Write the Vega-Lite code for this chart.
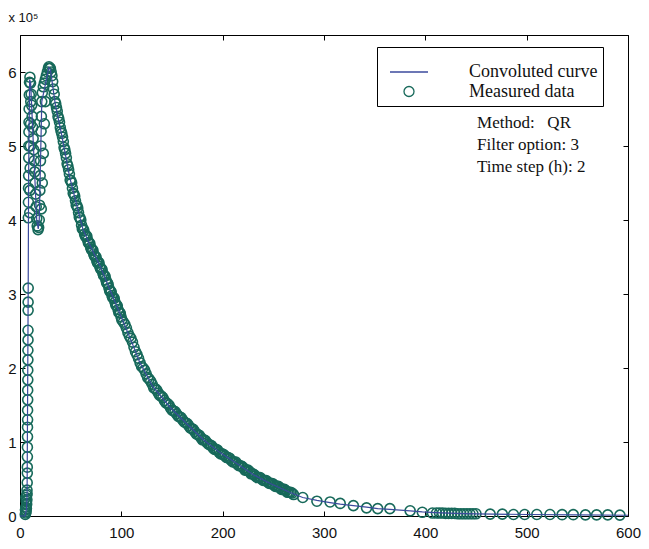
{
  "$schema": "https://vega.github.io/schema/vega-lite/v6.json",
  "width": 608,
  "height": 481,
  "autosize": {"type": "none"},
  "padding": {"left": 20, "top": 35, "right": 21, "bottom": 33},
  "background": "white",
  "config": {
    "view": {"stroke": "black", "strokeWidth": 1},
    "axis": {"domainColor": "black", "tickColor": "black", "labelColor": "#111", "labelFont": "Liberation Sans", "labelFontSize": 15, "grid": false, "tickSize": -5, "labelFlush": false, "labelOverlap": false}
  },
  "datasets": {
    "measured": [
      {"t":5.2,"v":0.02},{"t":5.4,"v":0.08},{"t":5.6,"v":0.04},{"t":5.8,"v":0.12},{"t":5.8,"v":0.25},{"t":6.0,"v":0.06},{"t":6.2,"v":0.2},{"t":6.3,"v":0.1},{"t":6.5,"v":0.28},{"t":6.6,"v":0.16},{"t":6.8,"v":0.22},{"t":6.9,"v":0.35},{"t":7.0,"v":0.3},{"t":7.1,"v":0.45},{"t":7.2,"v":0.58},{"t":7.2,"v":0.66},{"t":7.3,"v":0.8},{"t":7.3,"v":0.93},{"t":7.4,"v":1.07},{"t":7.4,"v":1.2},{"t":7.5,"v":1.3},{"t":7.5,"v":1.43},{"t":7.6,"v":1.57},{"t":7.6,"v":1.7},{"t":7.7,"v":1.84},{"t":7.7,"v":1.97},{"t":7.8,"v":2.11},{"t":7.8,"v":2.24},{"t":7.9,"v":2.38},{"t":7.9,"v":2.51},{"t":8.0,"v":2.78},{"t":8.0,"v":2.89},{"t":8.1,"v":3.08},
      {"t":8.2,"v":4.03},{"t":8.3,"v":4.24},{"t":8.4,"v":4.43},{"t":8.5,"v":4.6},{"t":8.6,"v":4.84},{"t":8.7,"v":5.0},{"t":8.8,"v":5.19},{"t":8.9,"v":5.32},{"t":9.0,"v":5.5},{"t":9.2,"v":5.69},{"t":9.4,"v":5.86},{"t":9.8,"v":5.93},
      {"t":9.6,"v":4.1},{"t":9.8,"v":4.4},{"t":10,"v":4.7},{"t":10.2,"v":5.0},{"t":10.4,"v":5.3},{"t":10.6,"v":5.6},
      {"t":10.4,"v":5.85},{"t":11,"v":5.7},{"t":11.5,"v":5.55},{"t":12,"v":5.4},{"t":12.5,"v":5.25},{"t":13,"v":5.1},{"t":13.5,"v":4.95},{"t":14,"v":4.8},{"t":14.5,"v":4.65},{"t":15,"v":4.5},{"t":15.5,"v":4.35},{"t":16,"v":4.18},{"t":16.5,"v":4.02},{"t":17,"v":3.92},{"t":17.8,"v":3.87},{"t":18.4,"v":3.9},
      {"t":19,"v":4.0},{"t":19.3,"v":4.2},{"t":19.6,"v":4.4},{"t":19.9,"v":4.6},{"t":20.2,"v":4.8},{"t":20.5,"v":5.0},{"t":20.8,"v":5.2},{"t":21.1,"v":5.4},{"t":21.5,"v":5.6},{"t":22,"v":5.72},{"t":23,"v":5.8},{"t":24,"v":5.85},{"t":25,"v":5.9},{"t":26,"v":5.95},{"t":27,"v":6.0},{"t":28,"v":6.05},{"t":28.6,"v":6.07},{"t":29.3,"v":6.05},
      {"t":21,"v":4.15},{"t":22,"v":4.5},{"t":23,"v":4.9},{"t":24,"v":5.3},{"t":25,"v":5.6},
      {"t":30,"v":6.05},{"t":31.5,"v":5.95},{"t":33,"v":5.77},{"t":34.5,"v":5.6},{"t":36,"v":5.52},{"t":37.5,"v":5.4},{"t":39,"v":5.32},{"t":40.5,"v":5.2},{"t":42,"v":5.12},{"t":43.5,"v":4.98},{"t":45,"v":4.9},{"t":46.5,"v":4.76},{"t":48,"v":4.68},{"t":49.5,"v":4.54},{"t":51,"v":4.5},{"t":52.5,"v":4.36},{"t":54,"v":4.32},{"t":55.5,"v":4.2},{"t":57,"v":4.16},{"t":58.5,"v":4.04},{"t":60,"v":4.0},{"t":61.5,"v":3.88},{"t":63,"v":3.86},{"t":64.5,"v":3.78},{"t":66,"v":3.78},{"t":67.5,"v":3.69},{"t":69,"v":3.68},{"t":70.5,"v":3.6},{"t":72,"v":3.59},{"t":73.5,"v":3.51},{"t":75,"v":3.5},{"t":76.5,"v":3.42},{"t":78,"v":3.42},{"t":79.5,"v":3.34},{"t":81,"v":3.33},{"t":82.5,"v":3.25},{"t":84,"v":3.24},{"t":85.5,"v":3.15},{"t":87,"v":3.13},{"t":88.5,"v":3.04},{"t":90,"v":3.03},{"t":91.5,"v":2.95},{"t":93,"v":2.94},{"t":94.5,"v":2.85},{"t":96,"v":2.84},{"t":97.5,"v":2.75},{"t":99,"v":2.74},{"t":100.5,"v":2.65},
      {"t":30.75,"v":6.0},{"t":32.25,"v":5.87},{"t":33.75,"v":5.7},{"t":35.25,"v":5.57},{"t":36.75,"v":5.47},{"t":38.25,"v":5.37},{"t":39.75,"v":5.25},{"t":41.25,"v":5.17},{"t":42.75,"v":5.06},{"t":44.25,"v":4.95},{"t":45.75,"v":4.84},{"t":47.25,"v":4.73},{"t":48.75,"v":4.62},{"t":50.25,"v":4.53},{"t":51.75,"v":4.43},{"t":53.25,"v":4.35},{"t":54.75,"v":4.26},{"t":56.25,"v":4.19},{"t":57.75,"v":4.1},{"t":59.25,"v":4.03},{"t":60.75,"v":3.93},{"t":62.25,"v":3.88},{"t":63.75,"v":3.81},{"t":65.25,"v":3.79},{"t":66.75,"v":3.73},{"t":68.25,"v":3.69},{"t":69.75,"v":3.63},{"t":71.25,"v":3.6},{"t":72.75,"v":3.54},{"t":74.25,"v":3.51},{"t":75.75,"v":3.45},{"t":77.25,"v":3.43},{"t":78.75,"v":3.37},{"t":80.25,"v":3.34},{"t":81.75,"v":3.28},{"t":83.25,"v":3.25},{"t":84.75,"v":3.19},{"t":86.25,"v":3.15},{"t":87.75,"v":3.08},{"t":89.25,"v":3.04},{"t":90.75,"v":2.98},{"t":92.25,"v":2.95},{"t":93.75,"v":2.89},{"t":95.25,"v":2.85},{"t":96.75,"v":2.79},{"t":98.25,"v":2.75},{"t":99.75,"v":2.69},
      {"t":102,"v":2.62},{"t":105,"v":2.54},{"t":108,"v":2.43},{"t":111,"v":2.35},{"t":114,"v":2.22},{"t":117,"v":2.13},{"t":120,"v":2.02},{"t":123,"v":1.97},{"t":126,"v":1.87},{"t":129,"v":1.82},{"t":132,"v":1.73},{"t":135,"v":1.7},{"t":138,"v":1.63},{"t":141,"v":1.6},{"t":144,"v":1.53},{"t":147,"v":1.5},{"t":150,"v":1.43},{"t":153,"v":1.41},{"t":156,"v":1.35},{"t":159,"v":1.33},{"t":162,"v":1.27},{"t":165,"v":1.25},{"t":168,"v":1.19},{"t":171,"v":1.17},{"t":174,"v":1.11},{"t":177,"v":1.09},{"t":180,"v":1.03},{"t":183,"v":1.02},{"t":186,"v":0.97},{"t":189,"v":0.95},{"t":192,"v":0.9},{"t":195,"v":0.89},{"t":198,"v":0.84},{"t":201,"v":0.83},{"t":204,"v":0.79},{"t":207,"v":0.78},{"t":210,"v":0.73},{"t":213,"v":0.73},{"t":216,"v":0.68},{"t":219,"v":0.67},{"t":222,"v":0.62},{"t":225,"v":0.62},{"t":228,"v":0.57},{"t":231,"v":0.56},{"t":234,"v":0.52},{"t":237,"v":0.52},{"t":240,"v":0.48},{"t":243,"v":0.48},{"t":246,"v":0.44},{"t":249,"v":0.44},{"t":252,"v":0.4},{"t":255,"v":0.4},{"t":258,"v":0.36},{"t":261,"v":0.36},{"t":264,"v":0.32},{"t":267,"v":0.32},{"t":270,"v":0.29},
      {"t":103.5,"v":2.59},{"t":106.5,"v":2.48},{"t":109.5,"v":2.4},{"t":112.5,"v":2.28},{"t":115.5,"v":2.18},{"t":118.5,"v":2.07},{"t":121.5,"v":2.0},{"t":124.5,"v":1.92},{"t":127.5,"v":1.85},{"t":130.5,"v":1.78},{"t":133.5,"v":1.72},{"t":136.5,"v":1.66},{"t":139.5,"v":1.62},{"t":142.5,"v":1.56},{"t":145.5,"v":1.52},{"t":148.5,"v":1.46},{"t":151.5,"v":1.42},{"t":154.5,"v":1.38},{"t":157.5,"v":1.34},{"t":160.5,"v":1.3},{"t":163.5,"v":1.26},{"t":166.5,"v":1.22},{"t":169.5,"v":1.18},{"t":172.5,"v":1.14},{"t":175.5,"v":1.1},{"t":178.5,"v":1.06},{"t":181.5,"v":1.03},{"t":184.5,"v":0.99},{"t":187.5,"v":0.96},{"t":190.5,"v":0.92},{"t":193.5,"v":0.9},{"t":196.5,"v":0.86},{"t":199.5,"v":0.84},{"t":202.5,"v":0.81},{"t":205.5,"v":0.79},{"t":208.5,"v":0.75},{"t":211.5,"v":0.73},{"t":214.5,"v":0.7},{"t":217.5,"v":0.68},{"t":220.5,"v":0.65},{"t":223.5,"v":0.62},{"t":226.5,"v":0.6},{"t":229.5,"v":0.57},{"t":232.5,"v":0.54},{"t":235.5,"v":0.52},{"t":238.5,"v":0.5},{"t":241.5,"v":0.48},{"t":244.5,"v":0.46},{"t":247.5,"v":0.44},{"t":250.5,"v":0.42},{"t":253.5,"v":0.4},{"t":256.5,"v":0.38},{"t":259.5,"v":0.36},{"t":262.5,"v":0.34},{"t":265.5,"v":0.32},{"t":268.5,"v":0.31},
      {"t":279,"v":0.25},{"t":293,"v":0.2},{"t":306,"v":0.19},{"t":316,"v":0.17},{"t":329,"v":0.14},{"t":342,"v":0.11},{"t":353,"v":0.1},{"t":365,"v":0.1},{"t":385,"v":0.07},{"t":397,"v":0.05},{"t":407,"v":0.04},
      {"t":411,"v":0.04},{"t":414,"v":0.04},{"t":417,"v":0.04},{"t":420,"v":0.035},{"t":423,"v":0.035},{"t":426,"v":0.035},{"t":429,"v":0.035},{"t":432,"v":0.03},{"t":435,"v":0.03},{"t":438,"v":0.03},{"t":441,"v":0.03},{"t":444,"v":0.03},{"t":447,"v":0.03},{"t":450,"v":0.03},
      {"t":464,"v":0.025},{"t":476,"v":0.025},{"t":487,"v":0.02},{"t":498,"v":0.02},{"t":510,"v":0.02},{"t":523,"v":0.02},{"t":535,"v":0.018},{"t":546,"v":0.018},{"t":558,"v":0.015},{"t":569,"v":0.015},{"t":580,"v":0.015},{"t":592,"v":0.012}
    ],
    "curve": [
      {"t":0,"v":0},{"t":5,"v":0},{"t":6.5,"v":0.1},{"t":7,"v":0.3},{"t":8.1,"v":3.1},{"t":8.5,"v":4.6},{"t":9.5,"v":5.9},{"t":10.5,"v":5.85},{"t":16.5,"v":4.0},{"t":18,"v":3.88},{"t":19,"v":4.0},{"t":21.5,"v":5.6},{"t":28.5,"v":6.06},{"t":30,"v":6.03},{"t":35,"v":5.55},{"t":41,"v":5.16},{"t":49,"v":4.58},{"t":56,"v":4.2},{"t":62,"v":3.88},{"t":70,"v":3.63},{"t":79,"v":3.38},{"t":88,"v":3.08},{"t":96,"v":2.82},{"t":102,"v":2.62},{"t":110,"v":2.36},{"t":118,"v":2.08},{"t":131,"v":1.75},{"t":148,"v":1.47},{"t":165,"v":1.24},{"t":181,"v":1.03},{"t":197,"v":0.86},{"t":214,"v":0.71},{"t":230,"v":0.56},{"t":247,"v":0.44},{"t":266,"v":0.32},{"t":279,"v":0.25},{"t":293,"v":0.21},{"t":306,"v":0.18},{"t":316,"v":0.16},{"t":329,"v":0.14},{"t":342,"v":0.12},{"t":353,"v":0.1},{"t":365,"v":0.09},{"t":385,"v":0.07},{"t":397,"v":0.055},{"t":410,"v":0.045},{"t":430,"v":0.035},{"t":450,"v":0.03},{"t":500,"v":0.02},{"t":550,"v":0.015},{"t":600,"v":0.01}
    ]
  },
  "layer": [
    {
      "data": {"name": "measured"},
      "mark": {"type": "point", "filled": false, "strokeWidth": 1.6, "opacity": 1},
      "encoding": {
        "x": {"field": "t", "type": "quantitative", "scale": {"domain": [0, 600], "nice": false}, "axis": {"values": [0, 100, 200, 300, 400, 500, 600], "title": null, "labelPadding": 14}},
        "y": {"field": "v", "type": "quantitative", "scale": {"domain": [0, 6.5], "nice": false}, "axis": {"values": [0, 1, 2, 3, 4, 5, 6], "labelPadding": 9, "title": "x 10⁵", "titleAngle": 0, "titleX": -12, "titleY": -18, "titleAlign": "left", "titleBaseline": "middle", "titleFont": "Liberation Sans", "titleFontSize": 13, "titleFontWeight": "normal", "titleColor": "#111"}},
        "color": {"datum": "Measured data", "type": "nominal", "scale": {"domain": ["Convoluted curve", "Measured data"], "range": ["#3b4a9c", "#17695a"]},
          "legend": {"orient": "none", "legendX": 357, "legendY": 12, "title": null, "strokeColor": "black", "fillColor": "white", "padding": 5, "symbolOffset": 7, "labelOffset": 40, "labelFont": "Liberation Serif", "labelFontSize": 18, "labelColor": "#111", "rowPadding": 1.5, "symbolStrokeWidth": 1.3}},
        "shape": {"datum": "Measured data", "type": "nominal", "scale": {"domain": ["Convoluted curve", "Measured data"], "range": ["stroke", "circle"]}},
        "size": {"datum": "Measured data", "type": "nominal", "scale": {"domain": ["Convoluted curve", "Measured data"], "range": [1444, 100]}}
      }
    },
    {
      "data": {"name": "curve"},
      "mark": {"type": "line", "strokeWidth": 1.2},
      "encoding": {
        "x": {"field": "t", "type": "quantitative", "scale": {"domain": [0, 600], "nice": false}, "axis": null},
        "y": {"field": "v", "type": "quantitative", "scale": {"domain": [0, 6.5], "nice": false}, "axis": null},
        "color": {"datum": "Convoluted curve", "type": "nominal", "scale": {"domain": ["Convoluted curve", "Measured data"], "range": ["#3b4a9c", "#17695a"]}}
      }
    },
    {
      "data": {"values": [{}]},
      "mark": {"type": "text", "align": "left", "baseline": "alphabetic", "font": "Liberation Serif", "fontSize": 17, "lineHeight": 22, "color": "#111"},
      "encoding": {
        "x": {"datum": 451, "type": "quantitative", "scale": {"domain": [0, 600], "nice": false}, "axis": null},
        "y": {"datum": 5.24, "type": "quantitative", "scale": {"domain": [0, 6.5], "nice": false}, "axis": null},
        "text": {"value": ["Method:\u00a0\u00a0\u00a0QR", "Filter option: 3", "Time step (h): 2"]}
      }
    },
    {
      "data": {"name": "curve"},
      "mark": {"type": "point", "opacity": 0},
      "encoding": {
        "x": {"field": "t", "type": "quantitative", "scale": {"domain": [0, 600], "nice": false}, "axis": {"orient": "top", "labels": false, "title": null, "values": [100, 200, 300, 400, 500]}},
        "y": {"field": "v", "type": "quantitative", "scale": {"domain": [0, 6.5], "nice": false}, "axis": {"orient": "right", "labels": false, "title": null, "values": [1, 2, 3, 4, 5]}}
      }
    }
  ],
  "resolve": {"axis": {"x": "independent", "y": "independent"}}
}
